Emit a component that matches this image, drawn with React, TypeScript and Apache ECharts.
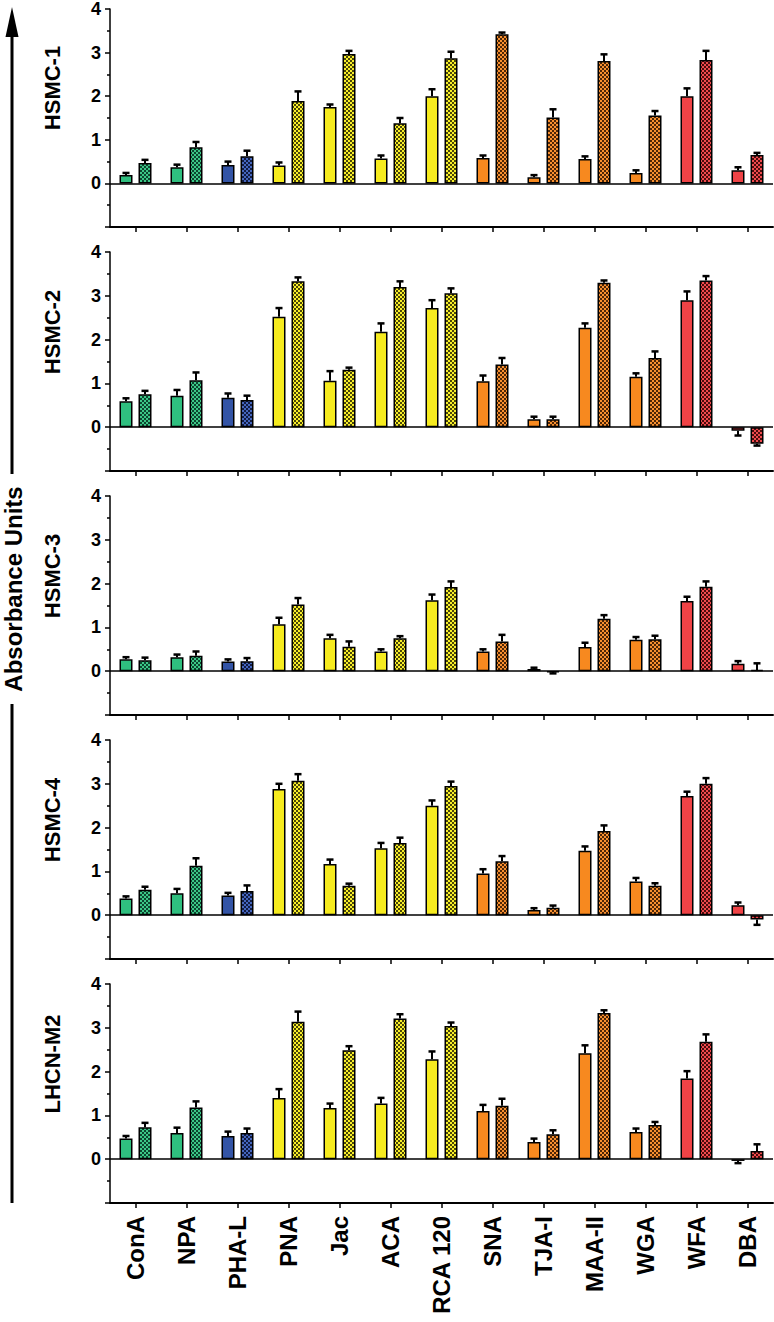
import React, { useEffect, useRef } from "react";
import * as echarts from "echarts";

const categories = ["ConA", "NPA", "PHA-L", "PNA", "Jac", "ACA", "RCA 120", "SNA", "TJA-I", "MAA-II", "WGA", "WFA", "DBA"];
const colorGroups = ["green", "green", "blue", "yellow", "yellow", "yellow", "yellow", "orange", "orange", "orange", "orange", "red", "red"];
const panelNames = ["HSMC-1", "HSMC-2", "HSMC-3", "HSMC-4", "LHCN-M2"];

const hsmc1Solid = [0.19, 0.37, 0.42, 0.41, 1.75, 0.57, 2.0, 0.58, 0.14, 0.56, 0.24, 2.0, 0.3];
const hsmc1SolidErr = [0.05, 0.06, 0.08, 0.07, 0.06, 0.07, 0.16, 0.06, 0.05, 0.06, 0.06, 0.18, 0.07];
const hsmc1Hatched = [0.47, 0.83, 0.62, 1.89, 2.97, 1.38, 2.87, 3.42, 1.51, 2.81, 1.56, 2.83, 0.65];
const hsmc1HatchedErr = [0.07, 0.12, 0.13, 0.22, 0.07, 0.12, 0.15, 0.04, 0.19, 0.15, 0.1, 0.21, 0.05];

const hsmc2Solid = [0.59, 0.72, 0.67, 2.52, 1.06, 2.18, 2.72, 1.05, 0.18, 2.27, 1.15, 2.9, -0.08];
const hsmc2SolidErr = [0.07, 0.13, 0.1, 0.2, 0.22, 0.19, 0.18, 0.13, 0.06, 0.1, 0.08, 0.2, 0.11];
const hsmc2Hatched = [0.75, 1.07, 0.62, 3.33, 1.31, 3.2, 3.06, 1.43, 0.18, 3.3, 1.58, 3.35, -0.38];
const hsmc2HatchedErr = [0.08, 0.18, 0.1, 0.09, 0.05, 0.13, 0.11, 0.15, 0.06, 0.05, 0.15, 0.1, 0.04];

const hsmc3Solid = [0.27, 0.32, 0.22, 1.07, 0.75, 0.45, 1.62, 0.45, 0.05, 0.55, 0.72, 1.6, 0.17];
const hsmc3SolidErr = [0.05, 0.06, 0.05, 0.15, 0.08, 0.05, 0.13, 0.05, 0.03, 0.1, 0.06, 0.1, 0.06];
const hsmc3Hatched = [0.25, 0.35, 0.23, 1.52, 0.56, 0.75, 1.92, 0.68, -0.02, 1.2, 0.73, 1.93, 0.03];
const hsmc3HatchedErr = [0.06, 0.1, 0.07, 0.15, 0.12, 0.05, 0.13, 0.15, 0.03, 0.08, 0.08, 0.12, 0.15];

const hsmc4Solid = [0.38, 0.5, 0.45, 2.88, 1.17, 1.53, 2.5, 0.95, 0.12, 1.47, 0.77, 2.72, 0.23];
const hsmc4SolidErr = [0.05, 0.1, 0.06, 0.12, 0.1, 0.12, 0.12, 0.1, 0.04, 0.1, 0.08, 0.1, 0.06];
const hsmc4Hatched = [0.58, 1.13, 0.55, 3.07, 0.67, 1.65, 2.95, 1.23, 0.17, 1.92, 0.67, 3.0, -0.1];
const hsmc4HatchedErr = [0.07, 0.17, 0.13, 0.15, 0.05, 0.12, 0.1, 0.12, 0.05, 0.13, 0.06, 0.13, 0.12];

const lhcnSolid = [0.47, 0.6, 0.53, 1.4, 1.17, 1.27, 2.28, 1.1, 0.39, 2.42, 0.62, 1.84, -0.04];
const lhcnSolidErr = [0.06, 0.12, 0.1, 0.2, 0.1, 0.13, 0.18, 0.14, 0.08, 0.18, 0.08, 0.17, 0.05];
const lhcnHatched = [0.73, 1.18, 0.6, 3.14, 2.49, 3.21, 3.04, 1.22, 0.57, 3.34, 0.78, 2.68, 0.19];
const lhcnHatchedErr = [0.1, 0.14, 0.1, 0.23, 0.09, 0.1, 0.08, 0.16, 0.09, 0.06, 0.07, 0.17, 0.15];

const solidSets = [hsmc1Solid, hsmc2Solid, hsmc3Solid, hsmc4Solid, lhcnSolid];
const solidErrSets = [hsmc1SolidErr, hsmc2SolidErr, hsmc3SolidErr, hsmc4SolidErr, lhcnSolidErr];
const hatchedSets = [hsmc1Hatched, hsmc2Hatched, hsmc3Hatched, hsmc4Hatched, lhcnHatched];
const hatchedErrSets = [hsmc1HatchedErr, hsmc2HatchedErr, hsmc3HatchedErr, hsmc4HatchedErr, lhcnHatchedErr];

const solidColors: Record<string, string> = {
  green: "#2fbf7f",
  blue: "#3354a6",
  yellow: "#f6eb1f",
  orange: "#f7891f",
  red: "#ef4346",
};
const hatchedDark: Record<string, string> = {
  green: "#0c4630",
  blue: "#111c44",
  yellow: "#4a4708",
  orange: "#4e2606",
  red: "#4c0c0c",
};
const hatchedLight: Record<string, string> = {
  green: "#3cc887",
  blue: "#4566be",
  yellow: "#f8ee2a",
  orange: "#f79030",
  red: "#f04a4e",
};

const FONT = "'Liberation Sans', Arial, Helvetica, sans-serif";
const W = 774;
const H = 1322;
const GRID_LEFT = 110;
const GRID_RIGHT = 1;
const GRID_TOP0 = 8;
const GRID_H = 219;
const GRID_STEP = 244;
const BAR_W = 13;
const BAR_GAP = 6;

function makePattern(dark: string, light: string) {
  const c = document.createElement("canvas");
  c.width = 4;
  c.height = 4;
  const ctx = c.getContext("2d")!;
  ctx.fillStyle = dark;
  ctx.fillRect(0, 0, 4, 4);
  ctx.fillStyle = light;
  ctx.fillRect(0, 0, 2, 2);
  ctx.fillRect(2, 2, 2, 2);
  return c;
}

export default function App() {
  const ref = useRef<HTMLDivElement>(null);

  useEffect(() => {
    if (!ref.current) return;
    const chart = echarts.init(ref.current, null, { renderer: "svg" });

    const patterns: Record<string, any> = {};
    Object.keys(hatchedDark).forEach((k) => {
      patterns[k] = makePattern(hatchedDark[k], hatchedLight[k]);
    });

    const grids: any[] = [];
    const xAxes: any[] = [];
    const yAxes: any[] = [];
    const series: any[] = [];
    const graphics: any[] = [];

    const errRender = (offset: number) => (params: any, api: any) => {
      const idx = api.value(0);
      const v = api.value(1);
      const e = api.value(2);
      const sign = v < 0 ? -1 : 1;
      const p0 = api.coord([idx, v]);
      const p1 = api.coord([idx, v + sign * e]);
      const x = p0[0] + offset;
      const capY = p1[1];
      return {
        type: "group",
        children: [
          {
            type: "line",
            shape: { x1: x, y1: p0[1], x2: x, y2: capY },
            style: { stroke: "#000", lineWidth: 2 },
          },
          {
            type: "line",
            shape: { x1: x - 3.5, y1: capY, x2: x + 3.5, y2: capY },
            style: { stroke: "#000", lineWidth: 2.5 },
          },
        ],
      };
    };

    const offset = (BAR_W + BAR_GAP) / 2;

    panelNames.forEach((name, p) => {
      const top = GRID_TOP0 + GRID_STEP * p;
      const isLast = p === panelNames.length - 1;
      grids.push({ left: GRID_LEFT, right: GRID_RIGHT, top, height: GRID_H, containLabel: false });
      xAxes.push({
        type: "category",
        gridIndex: p,
        data: categories,
        position: "bottom",
        axisLine: { onZero: false, lineStyle: { color: "#000", width: 2 } },
        axisTick: { show: true, alignWithLabel: true, length: 5, lineStyle: { color: "#000", width: 1.5 } },
        axisLabel: {
          show: isLast,
          rotate: 90,
          margin: 13,
          fontFamily: FONT,
          fontWeight: "bold",
          fontSize: 24,
          color: "#000",
          interval: 0,
        },
        splitLine: { show: false },
      });
      yAxes.push({
        type: "value",
        gridIndex: p,
        min: -1,
        max: 4,
        interval: 1,
        axisLine: { show: true, lineStyle: { color: "#000", width: 1.5 } },
        axisTick: { show: true, length: 5, lineStyle: { color: "#000", width: 1.5 } },
        minorTick: { show: true, splitNumber: 2, length: 3, lineStyle: { color: "#000", width: 1.5 } },
        axisLabel: {
          margin: 9,
          fontFamily: FONT,
          fontWeight: "bold",
          fontSize: 18,
          color: "#000",
          formatter: (v: number) => (v < 0 ? "" : String(v)),
        },
        splitLine: { show: false },
      });

      const solid = solidSets[p];
      const hatched = hatchedSets[p];
      series.push({
        type: "bar",
        xAxisIndex: p,
        yAxisIndex: p,
        barWidth: BAR_W,
        barGap: (BAR_GAP / BAR_W) * 100 + "%",
        data: solid.map((v, i) => ({ value: v, itemStyle: { color: solidColors[colorGroups[i]] } })),
        itemStyle: { borderColor: "#000", borderWidth: 1.5 },
        markLine: {
          silent: true,
          symbol: ["none", "none"],
          label: { show: false },
          lineStyle: { color: "#000", width: 1.5, type: "solid" },
          data: [{ yAxis: 0 }],
        },
        z: 2,
      });
      series.push({
        type: "bar",
        xAxisIndex: p,
        yAxisIndex: p,
        barWidth: BAR_W,
        barGap: (BAR_GAP / BAR_W) * 100 + "%",
        data: hatched.map((v, i) => ({
          value: v,
          itemStyle: { color: { image: patterns[colorGroups[i]], repeat: "repeat" } },
        })),
        itemStyle: { borderColor: "#000", borderWidth: 1.5 },
        z: 2,
      });
      series.push({
        type: "custom",
        xAxisIndex: p,
        yAxisIndex: p,
        renderItem: errRender(-offset),
        data: solid.map((v, i) => [i, v, solidErrSets[p][i]]),
        z: 3,
      });
      series.push({
        type: "custom",
        xAxisIndex: p,
        yAxisIndex: p,
        renderItem: errRender(offset),
        data: hatched.map((v, i) => [i, v, hatchedErrSets[p][i]]),
        z: 3,
      });

      graphics.push({
        type: "text",
        x: 52,
        y: top + 80,
        rotation: Math.PI / 2,
        style: {
          text: name,
          align: "center",
          verticalAlign: "middle",
          font: `bold 22px ${FONT}`,
          fill: "#000",
        },
      });
    });

    const lastBottom = GRID_TOP0 + GRID_STEP * (panelNames.length - 1) + GRID_H;
    graphics.push({
      type: "line",
      shape: { x1: 12, y1: lastBottom, x2: 12, y2: 30 },
      style: { stroke: "#000", lineWidth: 3 },
    });
    graphics.push({
      type: "polygon",
      shape: { points: [[12, 7], [5.5, 37], [18.5, 37]] },
      style: { fill: "#000" },
    });
    graphics.push({
      type: "rect",
      shape: { x: 0, y: 474, width: 26, height: 230 },
      style: { fill: "#fff" },
      z: 9,
    });
    graphics.push({
      type: "text",
      x: 13.5,
      y: 589,
      rotation: Math.PI / 2,
      z: 10,
      style: {
        text: "Absorbance Units",
        align: "center",
        verticalAlign: "middle",
        font: `bold 24px ${FONT}`,
        fill: "#000",
      },
    });

    chart.setOption({
      animation: false,
      backgroundColor: "#fff",
      grid: grids,
      xAxis: xAxes,
      yAxis: yAxes,
      series,
      graphic: graphics,
    });

    return () => chart.dispose();
  }, []);

  return <div ref={ref} style={{ position: "absolute", left: 0, top: 0, width: W, height: H }} />;
}
